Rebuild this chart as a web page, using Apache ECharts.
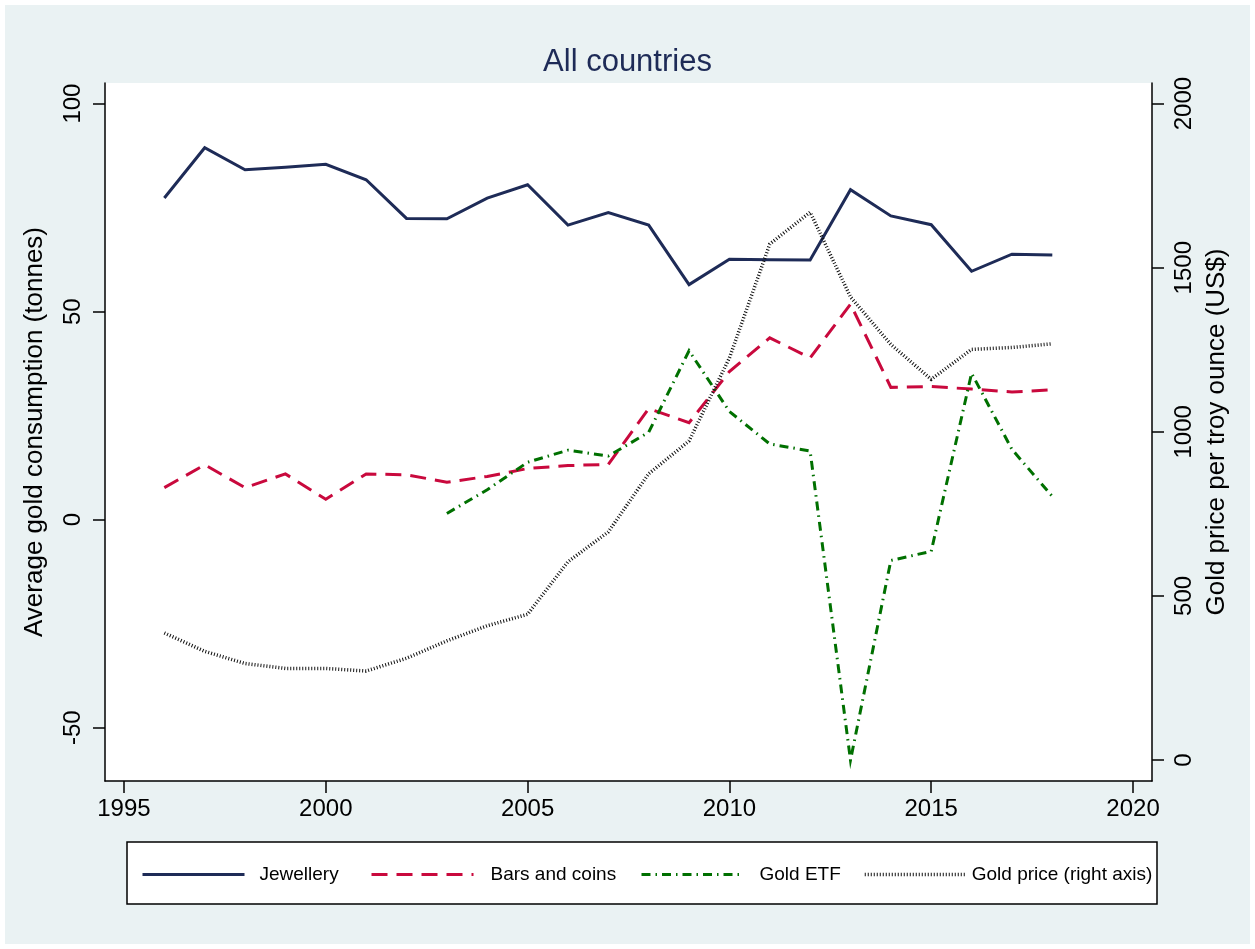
<!DOCTYPE html>
<html>
<head>
<meta charset="utf-8">
<title>Gold consumption - All countries</title>
<script src="https://cdn.jsdelivr.net/npm/echarts@6/dist/echarts.min.js"></script>
<style>
  html, body { margin: 0; padding: 0; background: #ffffff; }
  #panel { position: absolute; left: 5px; top: 5px; width: 1245px; height: 939px; background: #eaf2f3; }
  #chart { position: absolute; left: 0; top: 0; width: 1255px; height: 949px; }
</style>
</head>
<body>
<div id="panel"></div>
<div id="chart"></div>
<script>
// Annual averages, 1996-2018
const years = [1996, 1997, 1998, 1999, 2000, 2001, 2002, 2003, 2004, 2005, 2006, 2007,
               2008, 2009, 2010, 2011, 2012, 2013, 2014, 2015, 2016, 2017, 2018];

// Average gold consumption (tonnes), left axis
const jewellery = [77.3, 89.4, 84.1, 84.7, 85.4, 81.7, 72.4, 72.3, 77.3, 80.5, 70.8, 73.8,
                   70.8, 56.5, 62.6, 62.5, 62.4, 79.3, 73.0, 70.9, 59.7, 63.8, 63.6];
const barsCoins = [7.7, 13.2, 7.7, 11.0, 4.9, 11.0, 10.8, 9.0, 10.4, 12.3, 13.0, 13.3,
                   26.7, 23.3, 35.6, 43.7, 38.9, 51.8, 31.8, 32.0, 31.4, 30.7, 31.2];
const goldEtf   = [null, null, null, null, null, null, null, 1.5, 7.2, 13.8, 16.7, 15.3,
                   21.0, 40.6, 26.0, 18.2, 16.5, -57.8, -9.8, -7.6, 35.2, 16.9, 5.6];

// Gold price per troy ounce (US$), right axis
const goldPrice = [387, 331, 294, 279, 279, 271, 310, 363, 409, 444, 604, 695,
                   872, 972, 1225, 1572, 1669, 1411, 1266, 1160, 1251, 1257, 1268];

// Tick labels
const xTicks = [1995, 2000, 2005, 2010, 2015, 2020];
const leftTicks = [-50, 0, 50, 100];
const rightTicks = [0, 500, 1000, 1500, 2000];

const FONT = "'Liberation Sans', Arial, Helvetica, sans-serif";
const NAVY = '#1e2b57';
const CRIMSON = '#c9093d';
const GREEN = '#007000';
const DARK = '#111111';

const pairs = (vals) => years.map((y, i) => [y, vals[i]]);
const plain = (v) => String(v);

const axisLine = { show: true, onZero: false, lineStyle: { color: '#000', width: 1.5 } };
const axisTick = (vals) => ({ show: true, length: 12, lineStyle: { color: '#000', width: 1.5 }, customValues: vals });

function lineSeries(name, vals, color, width, type, yAxisIndex) {
  return {
    name, type: 'line', data: pairs(vals), yAxisIndex,
    symbol: 'none', connectNulls: false, animation: false,
    lineStyle: { color, width, type, cap: 'butt', join: 'miter' },
    itemStyle: { color }
  };
}

function legendItem(name, left, pad, width) {
  return {
    data: [name], left, top: 865, padding: 0, selectedMode: false,
    itemWidth: 102, itemHeight: 14,
    itemStyle: { opacity: 0 },
    lineStyle: { width },
    textStyle: { fontFamily: FONT, fontSize: 19, color: '#000', padding: [0, 0, 0, pad] }
  };
}

const chart = echarts.init(document.getElementById('chart'), null, { renderer: 'canvas' });

chart.setOption({
  backgroundColor: 'transparent',
  animation: false,
  title: {
    text: 'All countries', left: 'center', top: 42,
    textStyle: { fontFamily: FONT, fontSize: 31, fontWeight: 'normal', color: NAVY }
  },
  grid: {
    left: 105, right: 103, top: 83, bottom: 168,
    show: true, backgroundColor: '#ffffff', borderWidth: 0
  },
  xAxis: {
    type: 'value', min: 1994.53, max: 2020.47,
    axisLine, axisTick: axisTick(xTicks), splitLine: { show: false },
    axisLabel: { customValues: xTicks, formatter: plain, margin: 16, fontFamily: FONT, fontSize: 24, color: '#000' }
  },
  yAxis: [
    {
      type: 'value', position: 'left', min: -62.8, max: 104.95,
      name: 'Average gold consumption (tonnes)', nameLocation: 'middle', nameGap: 57,
      nameTextStyle: { fontFamily: FONT, fontSize: 26, color: '#000' },
      axisLine, axisTick: axisTick(leftTicks), splitLine: { show: false },
      axisLabel: { customValues: leftTicks, formatter: plain, rotate: 90, margin: 20, fontFamily: FONT, fontSize: 24, color: '#000' }
    },
    {
      type: 'value', position: 'right', min: -64, max: 2062.7,
      name: 'Gold price per troy ounce (US$)', nameLocation: 'middle', nameGap: 39, nameRotate: 90,
      nameTextStyle: { fontFamily: FONT, fontSize: 26, color: '#000' },
      axisLine, axisTick: axisTick(rightTicks), splitLine: { show: false },
      axisLabel: { customValues: rightTicks, formatter: plain, rotate: 90, margin: 20, fontFamily: FONT, fontSize: 24, color: '#000' }
    }
  ],
  legend: [
    legendItem('Jewellery', 141, 10, 3),
    legendItem('Bars and coins', 370, 12, 3),
    legendItem('Gold ETF', 640, 11, 3),
    legendItem('Gold price (right axis)', 863, 0, 3.5)
  ],
  graphic: [
    {
      type: 'rect', z: 1, silent: true,
      shape: { x: 127, y: 842, width: 1030, height: 62 },
      style: { fill: '#ffffff', stroke: '#000', lineWidth: 1.5 }
    }
  ],
  series: [
    lineSeries('Jewellery', jewellery, NAVY, 3, 'solid', 0),
    lineSeries('Bars and coins', barsCoins, CRIMSON, 3, [16, 9], 0),
    lineSeries('Gold ETF', goldEtf, GREEN, 3, [9, 5, 1.5, 5], 0),
    lineSeries('Gold price (right axis)', goldPrice, DARK, 3.5, [1, 2], 1)
  ]
});
</script>
</body>
</html>
